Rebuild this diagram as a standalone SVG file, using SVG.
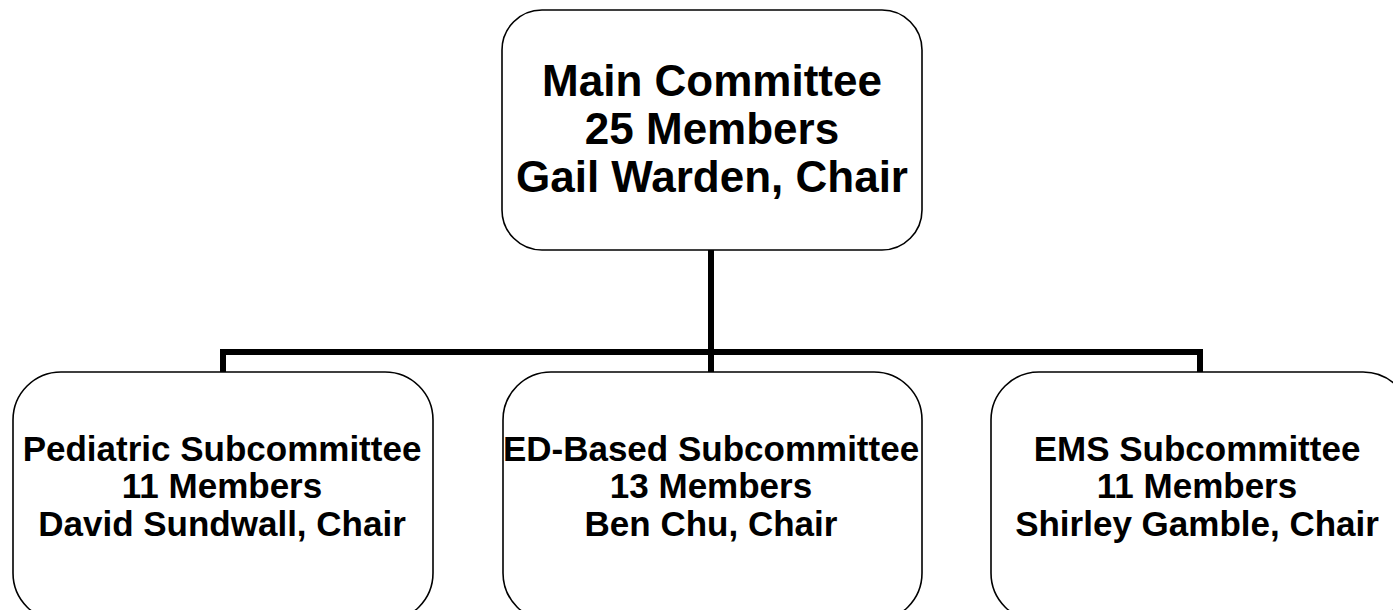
<svg xmlns="http://www.w3.org/2000/svg" width="1393" height="610" viewBox="0 0 1393 610">
<style>
.box{fill:#fff;stroke:#000;stroke-width:1.6}
.t{font-family:"Liberation Sans",Arial,sans-serif;font-weight:bold;fill:#000;text-anchor:middle}
.main{font-size:44px}
.sub{font-size:35px}
.conn{fill:none;stroke:#000;stroke-width:6;stroke-linecap:butt;stroke-linejoin:miter}
</style>
<rect width="1393" height="610" fill="#fff"/>
<g id="connectors">
<path class="conn" d="M711,250 V352"/>
<path class="conn" d="M223,372 V352 H1200 V372"/>
<path class="conn" d="M711,352 V372"/>
</g>
<g id="main">
<rect class="box" x="502" y="10" width="420" height="240" rx="40" ry="40"/>
<text class="t main" x="712" y="96">Main Committee</text>
<text class="t main" x="712" y="144">25 Members</text>
<text class="t main" x="712" y="192">Gail Warden, Chair</text>
</g>
<g id="pediatric">
<rect class="box" x="13" y="372" width="420" height="249" rx="48" ry="48"/>
<text class="t sub" x="222" y="460.5">Pediatric Subcommittee</text>
<text class="t sub" x="222" y="498">11 Members</text>
<text class="t sub" x="222" y="535.5">David Sundwall, Chair</text>
</g>
<g id="edbased">
<rect class="box" x="503" y="372" width="419" height="249" rx="48" ry="48"/>
<text class="t sub" x="711" y="460.5">ED-Based Subcommittee</text>
<text class="t sub" x="711" y="498">13 Members</text>
<text class="t sub" x="711" y="535.5">Ben Chu, Chair</text>
</g>
<g id="ems">
<rect class="box" x="991" y="372" width="420" height="249" rx="48" ry="48"/>
<text class="t sub" x="1197" y="460.5">EMS Subcommittee</text>
<text class="t sub" x="1197" y="498">11 Members</text>
<text class="t sub" x="1197" y="535.5">Shirley Gamble, Chair</text>
</g>
</svg>
